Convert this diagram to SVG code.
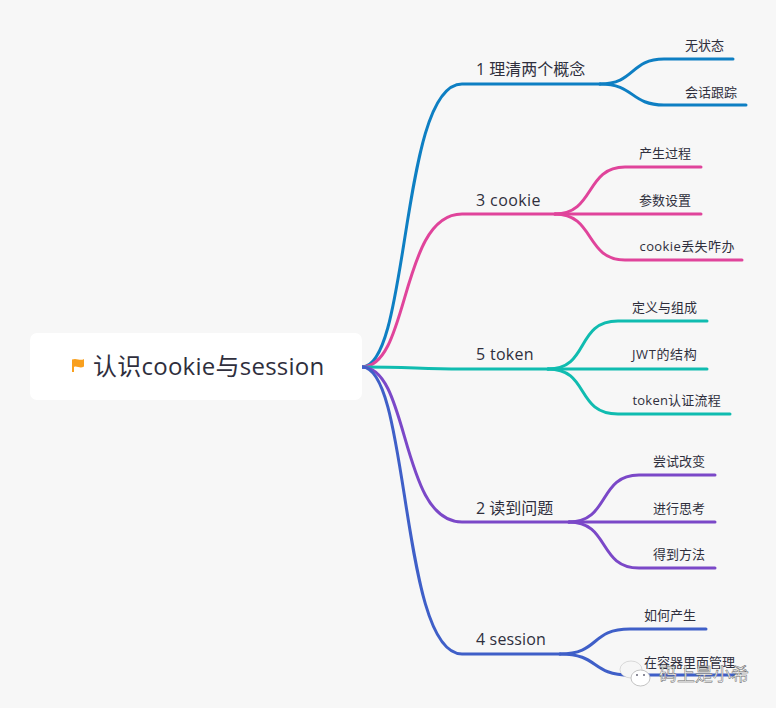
<svg xmlns="http://www.w3.org/2000/svg" width="776" height="708" viewBox="0 0 776 708">
<style>
.c{fill:none;stroke-width:3;stroke-linecap:round}
.t{font-family:"Open Sans","Noto Sans CJK SC",sans-serif;fill:#2f2f3d}
.b{font-size:16px}
.s{font-size:13px}
</style>
<rect width="776" height="708" fill="#f7f7f7"/>
<g id="connectors">
<g stroke="#0e7fc3"><path class="c" d="M362 367C410 367 400 84 462 84H600"/><path class="c" d="M600 84C635 84 630 59 664 59H733"/><path class="c" d="M600 84C635 84 630 105 664 105H746"/></g>
<g stroke="#e0449b"><path class="c" d="M362 367C410 367 400 214 462 214H555"/><path class="c" d="M555 214C595 214 585 167 625 167H701"/><path class="c" d="M555 214H701"/><path class="c" d="M555 214C595 214 585 260 625 260H742"/></g>
<g stroke="#10bcb0"><path class="c" d="M362 367C410 367 420 369 462 369H548"/><path class="c" d="M548 369C590 369 575 321 618 321H707"/><path class="c" d="M548 369H707"/><path class="c" d="M548 369C590 369 575 414 618 414H730"/></g>
<g stroke="#7b48c8"><path class="c" d="M362 367C410 367 400 522 462 522H569"/><path class="c" d="M569 522C610 522 598 475 639 475H715"/><path class="c" d="M569 522H715"/><path class="c" d="M569 522C610 522 598 568 639 568H715"/></g>
<g stroke="#3f5fc8"><path class="c" d="M362 367C410 367 400 654 462 654H560"/><path class="c" d="M560 654C600 654 590 629 630 629H706"/><path class="c" d="M560 654C600 654 590 675 630 675H735"/></g>
</g>
<g id="root">
<rect x="30" y="333" width="332" height="67" rx="7" fill="#fff"/>
<path d="M72 359.500V372H74V367C77 365.500 80 369 84 366.500V359C80 361.500 77 357.500 72 359.500Z" fill="#f9a01e"/>
<text class="t" x="93" y="375" font-size="24" letter-spacing="0.250">认识cookie与session</text>
</g>
<g id="n1"><text class="t b" x="476" y="75">1 理清两个概念</text></g>
<g id="n1a"><text class="t s" x="685" y="50">无状态</text></g>
<g id="n1b"><text class="t s" x="685" y="97">会话跟踪</text></g>
<g id="n3"><text class="t b" x="476" y="206" letter-spacing="0.400">3 cookie</text></g>
<g id="n3a"><text class="t s" x="639" y="158">产生过程</text></g>
<g id="n3b"><text class="t s" x="639" y="205">参数设置</text></g>
<g id="n3c"><text class="t s" x="639.500" y="251" letter-spacing="0.400">cookie丢失咋办</text></g>
<g id="n5"><text class="t b" x="476" y="360" letter-spacing="0.300">5 token</text></g>
<g id="n5a"><text class="t s" x="632" y="312">定义与组成</text></g>
<g id="n5b"><text class="t s" x="632" y="359" letter-spacing="0.600">JWT的结构</text></g>
<g id="n5c"><text class="t s" x="632.500" y="405" letter-spacing="0.200">token认证流程</text></g>
<g id="n2"><text class="t b" x="476" y="514">2 读到问题</text></g>
<g id="n2a"><text class="t s" x="653" y="466">尝试改变</text></g>
<g id="n2b"><text class="t s" x="653" y="513">进行思考</text></g>
<g id="n2c"><text class="t s" x="653" y="559">得到方法</text></g>
<g id="n4"><text class="t b" x="476" y="645" letter-spacing="0.150">4 session</text></g>
<g id="n4a"><text class="t s" x="644" y="620">如何产生</text></g>
<g id="n4b"><text class="t s" x="644" y="667">在容器里面管理</text></g>
<g id="watermark">
<ellipse cx="631" cy="669.500" rx="11" ry="8.500" fill="#f6f6f6" stroke="#ccc" stroke-width="0.700"/>
<ellipse cx="640.500" cy="678" rx="9.500" ry="8" fill="#fff" stroke="#aaa" stroke-width="0.700"/>
<circle cx="637" cy="675" r="1" fill="#667"/><circle cx="644" cy="675" r="1" fill="#667"/>
<text x="659" y="681" font-size="18" font-family="Noto Sans CJK SC,sans-serif" fill="#fff" stroke="#666" stroke-width="0.500">码上是小希</text>
</g>
</svg>
